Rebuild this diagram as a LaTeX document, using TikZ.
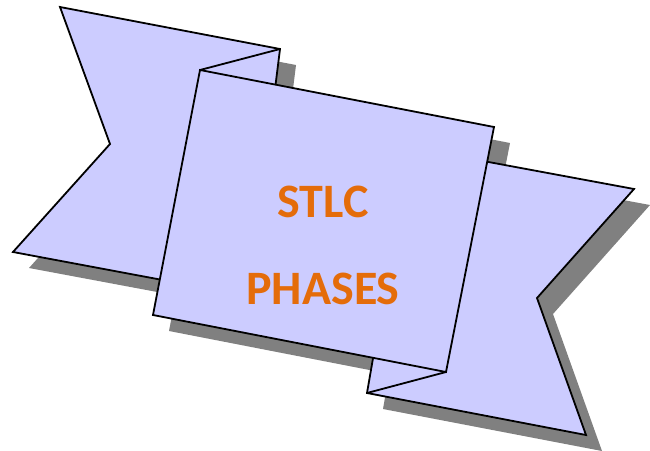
\documentclass[tikz,border=0pt]{standalone}
\usepackage{fontspec}
\newfontfamily\carlito{Carlito}
\definecolor{ribbonfill}{HTML}{CCCCFF}
\definecolor{shadowgray}{HTML}{808080}
\definecolor{txtorange}{HTML}{E46C0A}
\begin{document}
\begin{tikzpicture}[x=1pt,y=-1pt,
  ribbon/.style={fill=ribbonfill,draw=black,line width=1.8pt,line join=miter},
  foldline/.style={draw=black,line width=1.8pt},
  label/.style={text=txtorange,font=\carlito\bfseries\fontsize{48}{56}\selectfont,inner sep=0pt,anchor=base}]
\useasboundingbox (0,0) rectangle (650,450);
% coordinates
\coordinate (L1) at (60,7);
\coordinate (L2) at (280,49);
\coordinate (L3) at (250,290);
\coordinate (L4) at (200,287);
\coordinate (L5) at (13,252);
\coordinate (L6) at (110,144);
\coordinate (R1) at (440,153);
\coordinate (R2) at (634,189);
\coordinate (R3) at (537,298);
\coordinate (R4) at (586,435);
\coordinate (R5) at (367,393);
\coordinate (R6) at (390,260);
\coordinate (M1) at (200,70);
\coordinate (M2) at (494,127);
\coordinate (M3) at (446,372);
\coordinate (M4) at (153,315);
% shadows
\tikzset{sh/.style={shift={(16,16)}}}
\fill[shadowgray] ([sh]L1) -- ([sh]L2) -- ([sh]L3) -- ([sh]L4) -- ([sh]L5) -- ([sh]L6) -- cycle;
\fill[shadowgray] ([sh]R1) -- ([sh]R2) -- ([sh]R3) -- ([sh]R4) -- ([sh]R5) -- ([sh]R6) -- cycle;
\fill[shadowgray] ([sh]M1) -- ([sh]M2) -- ([sh]M3) -- ([sh]M4) -- cycle;
% ribbons
\draw[ribbon] (L1) -- (L2) -- (L3) -- (L4) -- (L5) -- (L6) -- cycle;
\draw[ribbon] (R1) -- (R2) -- (R3) -- (R4) -- (R5) -- (R6) -- cycle;
% folds
\draw[foldline] (L2) -- (M1);
\draw[foldline] (R5) -- (M3);
% main panel
\draw[ribbon] (M1) -- (M2) -- (M3) -- (M4) -- cycle;
\node[label] (t1) at (323,217) {STLC};
\node[label] (t2) at (323,304) {PHASES};
\end{tikzpicture}
\end{document}
